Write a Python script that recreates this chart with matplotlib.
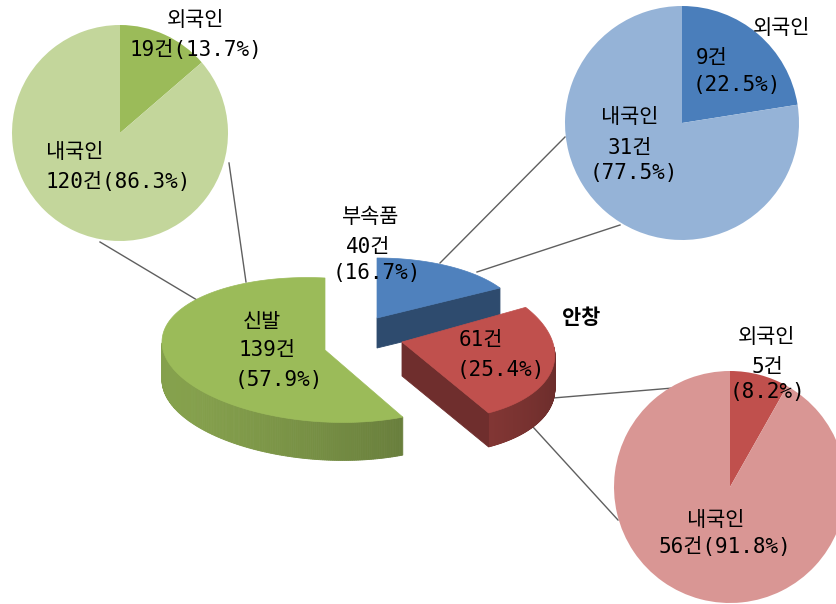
import numpy as np
import matplotlib.pyplot as plt
from matplotlib.patches import Polygon
from matplotlib.colors import to_rgb

# 영문/숫자는 고정폭, 한글은 Noto CJK 로
plt.rcParams['font.family'] = ['DejaVu Sans Mono', 'Noto Sans CJK KR']

# 유형별 건수 (부속품, 안창, 신발)
main_labels = ['부속품', '안창', '신발']
main_counts = [40, 61, 139]
main_pcts = [16.7, 25.4, 57.9]

# 유형별 내/외국인 (외국인, 내국인)
nat_labels = ['외국인', '내국인']
shoe_counts = [19, 120]
shoe_pcts = [13.7, 86.3]
parts_counts = [9, 31]
parts_pcts = [22.5, 77.5]
insole_counts = [5, 56]
insole_pcts = [8.2, 91.8]

W, H = 837, 604

GREEN, GREEN_L = '#9bbb59', '#c3d69b'
BLUE, BLUE_L = '#4a7ebb', '#95b3d7'
RED, RED_L = '#c0504d', '#d99694'
LINE = '#5f5f5f'

fig = plt.figure(figsize=(W / 100, H / 100), dpi=100)
ax = fig.add_axes([0, 0, 1, 1])


def P(x, y):
    # 화면 좌표(위가 0) -> 축 좌표
    return (x, H - y)


# ---- 3D 파이 조각 (꼭지점, 반지름, 기울기, 두께) ----
geom = {
    '부속품': dict(cx=377, cy=318, R=142, ry=60, kx=0, ky=0, h=30),
    '안창': dict(cx=402, cy=342, R=152, ry=78, kx=-16, ky=-5, h=34),
    '신발': dict(cx=325, cy=350, R=163, ry=72, kx=0, ky=-8, h=38),
}
top_colors = {'부속품': '#4f81bd', '안창': RED, '신발': GREEN}


def rim(g, t, drop=0):
    r = np.radians(t)
    x = g['cx'] + g['R'] * np.cos(r) + g['kx'] * np.sin(r)
    y = g['cy'] - (g['ry'] * np.sin(r) + g['ky'] * np.cos(r)) + drop
    return P(x, y)


def apex(g, drop=0):
    return P(g['cx'], g['cy'] + drop)


def shade(col, f):
    return tuple(np.clip(np.array(to_rgb(col)) * f, 0, 1))


def draw_slice(g, t1, t2, col, z):
    # t1 -> t2 시계방향
    ts = np.linspace(t1, t2, 300)
    front = ts[np.sin(np.radians(ts)) < 0]
    # 바깥 옆면 (앞쪽만)
    for a, b in zip(front[:-1], front[1:]):
        f = 0.70 + 0.16 * np.cos(np.radians(a - 200))
        c = shade(col, f)
        pts = [rim(g, a), rim(g, b), rim(g, b, g['h']), rim(g, a, g['h'])]
        ax.add_patch(Polygon(pts, closed=True, fc=c, ec=c, lw=0.6, zorder=z))
    # 잘린 면
    for t, sgn in ((t2, 1), (t1, -1)):
        if sgn * np.cos(np.radians(t)) > 1e-6:
            c = shade(col, 0.58)
            pts = [apex(g), rim(g, t), rim(g, t, g['h']), apex(g, g['h'])]
            ax.add_patch(Polygon(pts, closed=True, fc=c, ec=c, lw=0.6, zorder=z))
    # 윗면
    pts = [apex(g)] + [rim(g, t) for t in ts]
    ax.add_patch(Polygon(pts, closed=True, fc=col, ec=col, lw=0.5, zorder=z))


# ---- 연결선 ----
links = [((100, 242), (197, 300)), ((229, 163), (246, 282)),
         ((565, 137), (440, 263)), ((620, 225), (477, 272)),
         ((553, 398), (673, 388)), ((533, 427), (618, 520))]
for a, b in links:
    ax.plot([a[0], b[0]], [H - a[1], H - b[1]], color=LINE, lw=1.0, zorder=0.5)

# ---- 작은 파이 (내/외국인) ----
small = [
    (shoe_counts, [GREEN, GREEN_L], (120, 133), 108),
    (parts_counts, [BLUE, BLUE_L], (682, 123), 117),
    (insole_counts, [RED, RED_L], (730, 487), 116),
]
for vals, cols, c, r in small:
    ax.pie(vals, colors=cols, startangle=90, counterclock=False,
           center=P(*c), radius=r, wedgeprops=dict(linewidth=0))

# ---- 메인 3D 파이 ----
total = sum(main_counts)
start = 90.0
spans = {}
for lab, n in zip(main_labels, main_counts):
    end = start - 360.0 * n / total
    spans[lab] = (start, end)
    start = end

draw_slice(geom['부속품'], *spans['부속품'], top_colors['부속품'], 3)
draw_slice(geom['신발'], *spans['신발'], top_colors['신발'], 4)
draw_slice(geom['안창'], *spans['안창'], top_colors['안창'], 5)

ax.set_xlim(0, W)
ax.set_ylim(0, H)
ax.set_aspect('equal')
ax.axis('off')

# ---- 라벨 ----
FS = 15


def label(x, y, s, ha='center', **kw):
    ax.text(x, H - y, s, ha=ha, va='center', fontsize=FS, color='black',
            zorder=10, **kw)


# 신발 내/외국인
label(196, 20, nat_labels[0])
label(196, 50, f'{shoe_counts[0]}건({shoe_pcts[0]}%)')
label(46, 152, nat_labels[1], ha='left')
label(46, 182, f'{shoe_counts[1]}건({shoe_pcts[1]}%)', ha='left')

# 부속품 내/외국인
label(782, 28, nat_labels[0])
label(696, 58, f'{parts_counts[0]}건', ha='left')
label(693, 85, f'({parts_pcts[0]}%)', ha='left')
label(630, 117, nat_labels[1])
label(630, 148, f'{parts_counts[1]}건')
label(634, 173, f'({parts_pcts[1]}%)')

# 안창 내/외국인
label(767, 337, nat_labels[0])
label(767, 367, f'{insole_counts[0]}건')
label(768, 392, f'({insole_pcts[0]}%)')
label(716, 520, nat_labels[1])
label(725, 547, f'{insole_counts[1]}건({insole_pcts[1]}%)')

# 메인 파이
label(371, 217, main_labels[0])
label(368, 247, f'{main_counts[0]}건')
label(377, 273, f'({main_pcts[0]}%)')
label(262, 322, main_labels[2])
label(267, 350, f'{main_counts[2]}건')
label(279, 380, f'({main_pcts[2]}%)')
label(481, 340, f'{main_counts[1]}건')
label(501, 370, f'({main_pcts[1]}%)')
label(581, 318, main_labels[1], fontweight='bold')

fig.savefig('out.png', dpi=100)
